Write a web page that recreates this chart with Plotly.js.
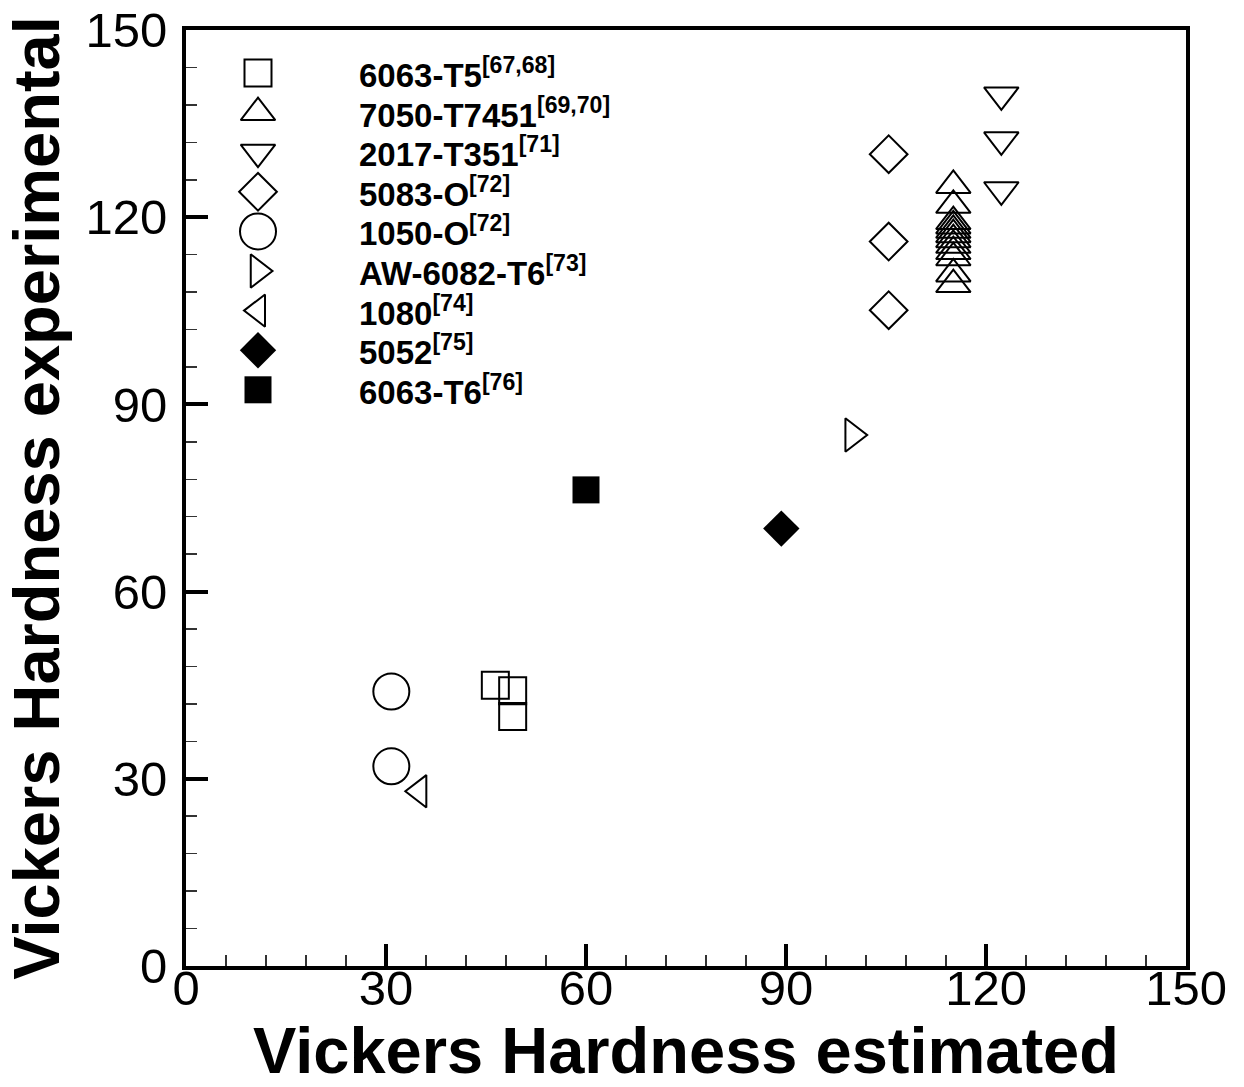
<!DOCTYPE html>
<html>
<head>
<meta charset="utf-8">
<script src="https://cdn.plot.ly/plotly-3.0.1.min.js"></script>
<style>html,body{margin:0;padding:0;background:#fff;}#chart{width:1244px;height:1087px;}</style>
</head>
<body>
<div id="chart"></div>
<script>
// ---- data ----
const seriesNames = ["6063-T5", "7050-T7451", "2017-T351", "5083-O", "1050-O", "AW-6082-T6", "1080", "5052", "6063-T6"];
const seriesRefs  = ["[67,68]", "[69,70]", "[71]", "[72]", "[72]", "[73]", "[74]", "[75]", "[76]"];

const x_6063T5 = [46.4, 49.0, 49.0];
const y_6063T5 = [45.0, 44.1, 40.0];

const x_7050 = [115.1, 115.1, 115.1, 115.1, 115.1, 115.1, 115.1, 115.1, 115.1, 115.1, 115.1, 115.1];
const y_7050 = [125.1, 121.9, 119.3, 118.6, 117.9, 117.2, 116.4, 115.5, 114.5, 113.5, 110.9, 109.2];

const x_2017 = [122.3, 122.3, 122.3];
const y_2017 = [139.6, 132.4, 124.4];

const x_5083 = [105.4, 105.4, 105.4];
const y_5083 = [130.1, 116.1, 105.1];

const x_1050 = [30.8, 30.8];
const y_1050 = [44.0, 32.0];

const x_6082 = [100.0];
const y_6082 = [85.1];

const x_1080 = [35.0];
const y_1080 = [28.0];

const x_5052 = [89.3];
const y_5052 = [70.1];

const x_6063T6 = [60.0];
const y_6063T6 = [76.3];

const xTicks = [0, 30, 60, 90, 120, 150];
const yTicks = [0, 30, 60, 90, 120, 150];

// ---- styles ----
const FONT = "Liberation Sans, Arial, Helvetica, sans-serif";
const styles = [
  {symbol: "square-open", size: 27},
  {symbol: "triangle-up-open", size: 30},
  {symbol: "triangle-down-open", size: 30},
  {symbol: "diamond-open", size: 29},
  {symbol: "circle-open", size: 36},
  {symbol: "triangle-right-open", size: 29},
  {symbol: "triangle-left-open", size: 28},
  {symbol: "diamond", size: 28},
  {symbol: "square", size: 27}
];
const xs = [x_6063T5, x_7050, x_2017, x_5083, x_1050, x_6082, x_1080, x_5052, x_6063T6];
const ys = [y_6063T5, y_7050, y_2017, y_5083, y_1050, y_6082, y_1080, y_5052, y_6063T6];

function markerFor(i) {
  const s = styles[i];
  const open = s.symbol.endsWith("-open");
  return {
    symbol: s.symbol, size: s.size, color: "black",
    line: {color: "black", width: open ? 2 : 0}
  };
}

const traces = [];
seriesNames.forEach((name, i) => {
  traces.push({
    type: "scatter", mode: "markers", name: name,
    x: xs[i], y: ys[i],
    marker: markerFor(i),
    showlegend: false, hoverinfo: "x+y+name"
  });
});

// custom legend (large symbols) on an invisible overlay axis
const plotTop = 30, plotH = 936, plotL = 186, plotW = 1000;
const legSymX = (258 - plotL) / plotW;
const legTextX = (357 - plotL) / plotW;
const rowY = i => 1 - (73 + 39.6 * i - plotTop) / plotH;

const annotations = [];
seriesNames.forEach((name, i) => {
  traces.push({
    type: "scatter", mode: "markers", name: name + " (legend)",
    x: [legSymX], y: [rowY(i)], xaxis: "x2", yaxis: "y2",
    marker: markerFor(i), showlegend: false, hoverinfo: "skip"
  });
  annotations.push({
    xref: "paper", yref: "paper", x: legTextX, y: rowY(i),
    xanchor: "left", yanchor: "middle", showarrow: false,
    text: "<b>" + name + "<sup>" + seriesRefs[i] + "</sup></b>",
    font: {family: FONT, size: 33, color: "black"}
  });
});

const axisCommon = {
  range: [0, 150], tickmode: "array", showline: true, linewidth: 4, linecolor: "black",
  mirror: true, ticks: "inside", ticklen: 22, tickwidth: 4, tickcolor: "black",
  showgrid: false, zeroline: false,
  tickfont: {family: FONT, size: 49, color: "black"},
  minor: {ticks: "inside", ticklen: 11, tickwidth: 1.5, tickcolor: "#333", dtick: 6, showgrid: false},
  fixedrange: true
};

const layout = {
  width: 1244, height: 1087,
  margin: {l: plotL, r: 1244 - plotL - plotW, t: plotTop, b: 1087 - plotTop - plotH},
  paper_bgcolor: "white", plot_bgcolor: "white",
  showlegend: false,
  xaxis: Object.assign({}, axisCommon, {
    tickvals: xTicks, ticktext: xTicks.map(String), ticklabelstandoff: -24,
    title: {text: "Vickers Hardness estimated", font: {family: FONT, size: 65, color: "black", weight: 700}, standoff: 14}
  }),
  yaxis: Object.assign({}, axisCommon, {
    tickvals: yTicks, ticktext: yTicks.map(String), ticklabelstandoff: 5,
    title: {text: "Vickers Hardness experimental", font: {family: FONT, size: 65, color: "black", weight: 700}, standoff: 10}
  }),
  xaxis2: {overlaying: "x", range: [0, 1], visible: false, fixedrange: true},
  yaxis2: {overlaying: "y", range: [0, 1], visible: false, fixedrange: true},
  annotations: annotations
};

Plotly.newPlot("chart", traces, layout, {displayModeBar: false, staticPlot: true});
</script>
</body>
</html>
